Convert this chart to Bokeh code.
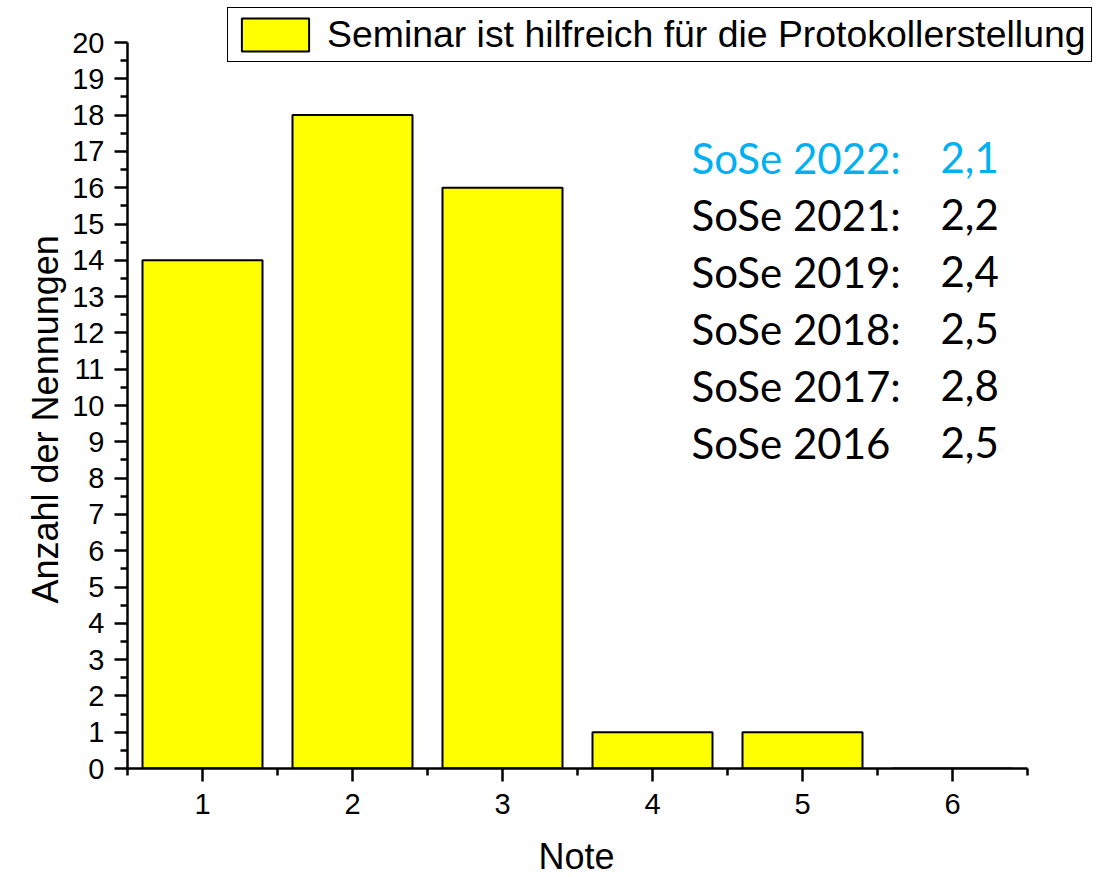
from bokeh.plotting import figure
from bokeh.models import ColumnDataSource, FixedTicker, Legend, LegendItem, Range1d, Title
from bokeh.core.properties import value
from bokeh.embed import file_html
from bokeh.resources import INLINE

notes = [1, 2, 3, 4, 5, 6]
counts = [14, 18, 16, 1, 1, 0]
legend_label = "Seminar ist hilfreich für die Protokollerstellung"
sem_labels = ["SoSe 2022:", "SoSe 2021:", "SoSe 2019:", "SoSe 2018:", "SoSe 2017:", "SoSe 2016"]
sem_values = ["2,1", "2,2", "2,4", "2,5", "2,8", "2,5"]
sem_colors = ["#00B0F0", "black", "black", "black", "black", "black"]
x_ticks = [1, 2, 3, 4, 5, 6]
y_ticks = list(range(0, 21))
x_title = "Note"
y_title = "Anzahl der Nennungen"

# layout: 150 px per x unit, 36.3 px per y unit; frame extended so the legend fits
FRAME_W, FRAME_H = 973, 762
x_end = 0.5 + FRAME_W / 150.0
y_end = 20 * FRAME_H / 726.0

p = figure(width=1100, height=877, output_backend="svg", toolbar_location=None,
           x_range=Range1d(0.5, x_end), y_range=Range1d(0, y_end),
           frame_width=FRAME_W, frame_height=FRAME_H,
           min_border_left=127, min_border_right=0, min_border_top=6, min_border_bottom=109)
p.outline_line_color = None
p.xgrid.grid_line_color = None
p.ygrid.grid_line_color = None
p.background_fill_color = "white"
p.border_fill_color = "white"

src = ColumnDataSource(dict(x=notes, top=counts))
bars = p.vbar(x="x", top="top", width=0.8, source=src, fill_color="#FFFF00",
              line_color="black", line_width=2)

for ax in (p.xaxis[0], p.yaxis[0]):
    ax.axis_line_width = 2.5
    ax.major_tick_line_width = 2.5
    ax.minor_tick_line_width = 2.5
    ax.major_tick_in = 0
    ax.major_tick_out = 13
    ax.minor_tick_in = 0
    ax.minor_tick_out = 7
    ax.major_label_text_font = "Liberation Sans"
    ax.major_label_text_font_size = "29px"
    ax.major_label_text_color = "black"
    ax.major_label_standoff = 10
p.xaxis.major_label_standoff = 12

p.xaxis.bounds = (0.5, 6.5)
p.yaxis.bounds = (0, 20)
p.xaxis.ticker = FixedTicker(ticks=x_ticks, minor_ticks=[0.5 + i for i in range(7)])
p.yaxis.ticker = FixedTicker(ticks=y_ticks, minor_ticks=[t + 0.5 for t in y_ticks[:-1]])

p.add_layout(Title(text=x_title, align="left", offset=411, standoff=34,
                   text_font="Liberation Sans", text_font_size="36px",
                   text_font_style="normal", text_color="black"), "below")
p.add_layout(Title(text=y_title, align="left", offset=165, standoff=8,
                   text_font="Liberation Sans", text_font_size="36px",
                   text_font_style="normal", text_color="black"), "left")

ys = [16.83 - i * 1.57 for i in range(len(sem_labels))]
tsrc = ColumnDataSource(dict(x1=[4.26] * 6, x2=[5.92] * 6, y=ys, l=sem_labels, v=sem_values, c=sem_colors))
p.text(x="x1", y="y", text="l", source=tsrc, text_color="c", text_font=value("Lato"),
       text_font_size="42px", text_baseline="middle", text_align="left")
p.text(x="x2", y="y", text="v", source=tsrc, text_color="c", text_font=value("Lato"),
       text_font_size="42px", text_baseline="middle", text_align="left")

legend = Legend(items=[LegendItem(label=legend_label, renderers=[bars])],
                location=(100, 706), glyph_width=84, glyph_height=41,
                label_text_font="Liberation Sans", label_text_font_size="37.4px",
                label_text_color="black",
                border_line_color="black", border_line_width=1.5, border_line_alpha=1.0,
                padding=5, margin=0, spacing=0, label_standoff=10,
                background_fill_alpha=1.0)
p.add_layout(legend, "center")

open("out.html", "w").write(file_html(p, INLINE))
